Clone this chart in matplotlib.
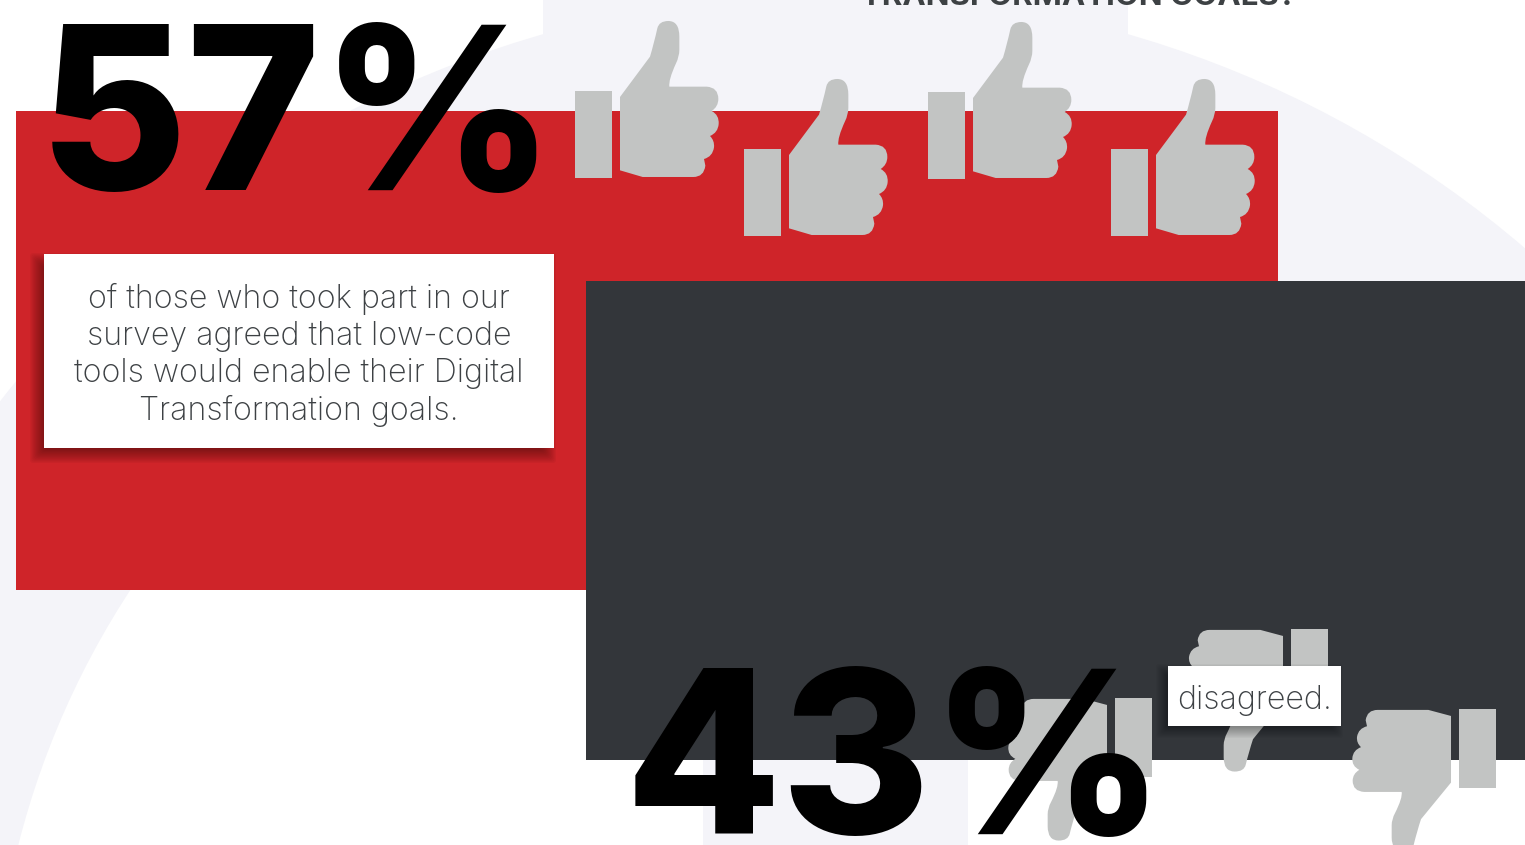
import matplotlib
matplotlib.use('Agg')
import matplotlib.pyplot as plt
from matplotlib.patches import Rectangle, Circle, PathPatch, FancyBboxPatch
from matplotlib.path import Path
from matplotlib.transforms import Affine2D

# survey figures
percent_agree = 57
percent_disagree = 43
agree_text = ['of those who took part in our',
              'survey agreed that low-code',
              'tools would enable their Digital',
              'Transformation goals.']
agree_text_y = [308, 345, 382, 420]
disagree_text = 'disagreed.'
title_text = 'TRANSFORMATION GOALS?'

# icon placement, top left corner of each cuff
thumbs_up_x = [575, 744, 928, 1111]
thumbs_up_y = [91, 149, 92, 149]
thumbs_down_x = [1115, 1291, 1459]
thumbs_down_y = [698, 629, 709]

RED = '#cf2429'
DARK = '#33363a'
LILAC = '#f4f4f9'
GREY = '#c2c4c3'
TEXT = '#3d4144'

W, H = 1525, 845
# the extra fraction stops the pixel height rounding down to 844
fig = plt.figure(figsize=((W + 0.01) / 100, (H + 0.01) / 100), dpi=100, facecolor='white')
ax = fig.add_axes([0, 0, 1, 1])
ax.set_xlim(0, W)
ax.set_ylim(H, 0)
ax.axis('off')


def thumb_path():
    # outline of the hand, units are 1/3 px from the cuff's top left corner
    verts = [(180, 291), (270, 170), (282, 130), (292, 85), (297, 63), (325, 63),
             (358, 63), (358, 110), (358, 150), (358, 170), (348, 190),
             (325, 240), (328, 260), (440, 260), (475, 262), (475, 297),
             (475, 320), (455, 333), (478, 345), (476, 372), (474, 398), (450, 408),
             (464, 422), (462, 442), (458, 470), (432, 477), (436, 497),
             (432, 531), (400, 531), (248, 531), (180, 511), (180, 291)]
    C3, LN = Path.CURVE3, Path.LINETO
    codes = [Path.MOVETO, LN, C3, C3, C3, C3, C3, C3, LN, C3, C3, C3, C3, LN, C3, C3,
             C3, C3, C3, C3, C3, C3, C3, C3, C3, C3, LN, C3, C3, LN, LN, Path.CLOSEPOLY]
    verts = [((x - 45) / 3, (y - 273) / 3) for x, y in verts]
    return Path(verts, codes)


def soft_shadow(x0, y0, x1, y1, dx, dy, blur, alpha, z):
    # stacked translucent boxes, good enough for a blurred drop shadow
    steps = 14
    for i in range(steps):
        grow = blur * (1 - 2 * i / (steps - 1))
        ax.add_patch(FancyBboxPatch((x0 + dx - grow + 3, y0 + dy - grow + 3),
                                    x1 - x0 + 2 * grow - 6, y1 - y0 + 2 * grow - 6,
                                    boxstyle='round,pad=3', fc='black', ec='none',
                                    alpha=alpha / steps, zorder=z))


# background ring, the two tabs and the white middle
ax.add_patch(Circle((835.5, 1052), 1059, fc=LILAC, ec='none', zorder=1))
ax.add_patch(Circle((835.5, 1052), 843, fc='white', ec='none', zorder=2))
ax.add_patch(Rectangle((543, 0), 585, 60, fc=LILAC, ec='none', zorder=2))
ax.add_patch(Rectangle((703, 700), 265, 145, fc=LILAC, ec='none', zorder=3))

# panels
ax.add_patch(Rectangle((16, 111), 1262, 479, fc=RED, ec='none', zorder=4))
ax.add_patch(Rectangle((586, 281), 939, 479, fc=DARK, ec='none', zorder=5))

ax.text(1079, 4.5, title_text, ha='center', va='baseline', fontsize=22.5, family='Inter',
        weight='bold', color=TEXT, zorder=6)

# thumbs
hand = thumb_path()
for x, y in zip(thumbs_up_x, thumbs_up_y):
    ax.add_patch(Rectangle((x, y), 37, 87, fc=GREY, ec='none', zorder=6))
    ax.add_patch(PathPatch(hand, fc=GREY, ec='none', zorder=6,
                           transform=Affine2D().translate(x, y) + ax.transData))
for x, y in zip(thumbs_down_x, thumbs_down_y):
    ax.add_patch(Rectangle((x, y), 37, 79, fc=GREY, ec='none', zorder=6))
    flip = Affine2D().translate(-37, -87).scale(-1, -79 / 87).translate(x, y)
    ax.add_patch(PathPatch(hand, fc=GREY, ec='none', zorder=6,
                           transform=flip + ax.transData))

# text boxes
soft_shadow(44, 254, 554, 448, -6, 7, 8, 0.5, 7)
ax.add_patch(Rectangle((44, 254), 510, 194, fc='white', ec='none', zorder=8))
for line, y in zip(agree_text, agree_text_y):
    ax.text(299, y, line, ha='center', va='baseline', fontsize=23.2, family='Inter',
            weight='light', color=TEXT, zorder=9)

soft_shadow(1168, 666, 1341, 726, -5, 5, 7, 0.45, 7)
ax.add_patch(Rectangle((1168, 666), 173, 60, fc='white', ec='none', zorder=8))
ax.text(1254.5, 709, disagree_text, ha='center', va='baseline', fontsize=23.2, family='Inter',
        weight='light', color=TEXT, zorder=9)

# big numbers
ax.text(297.5, 190, '{}%'.format(percent_agree), ha='center', va='baseline', fontsize=164,
        family='Inter', weight=800, color='black', zorder=10)
ax.text(895, 834, '{}%'.format(percent_disagree), ha='center', va='baseline', fontsize=164,
        family='Inter', weight=800, color='black', zorder=10)

fig.savefig('out.png', dpi=100)
